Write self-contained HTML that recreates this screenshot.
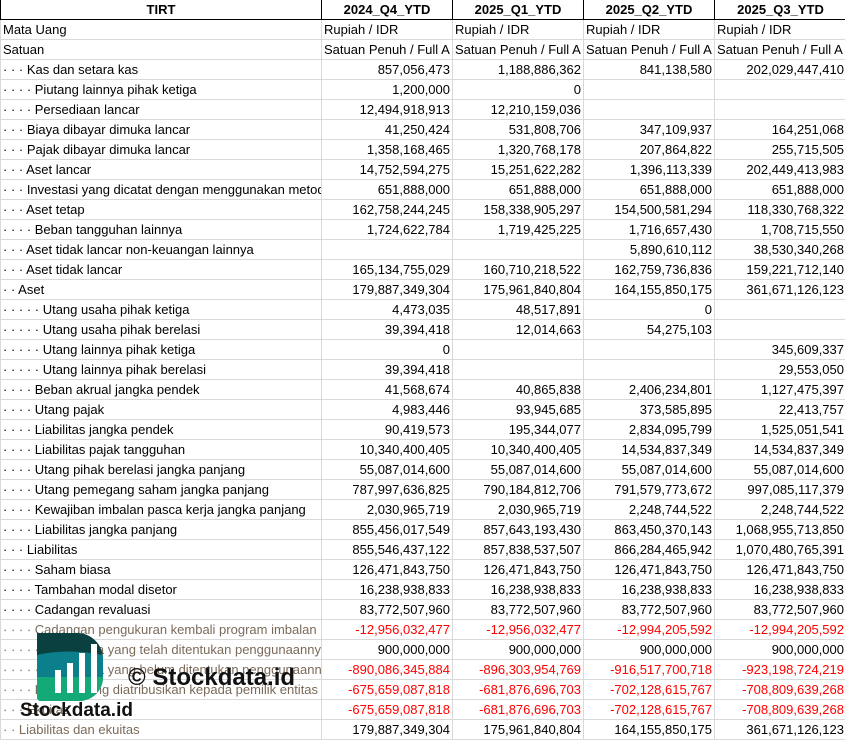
<!DOCTYPE html>
<html><head><meta charset="utf-8"><style>
body{margin:0;width:845px;height:741px;overflow:hidden;background:#fff;font-family:"Liberation Sans",Arial,sans-serif;font-size:13px;color:#000;position:relative}
table{border-collapse:collapse;table-layout:fixed;position:absolute;left:0;top:0;width:846px}
td{height:19px;padding:0 2px;border:1px solid #d9d9d9;white-space:nowrap;overflow:hidden;text-overflow:clip;line-height:19px;max-width:0}
tr.h td{font-weight:bold;text-align:center;border:1px solid #000;border-top:none}
td.n{text-align:right}
.r{color:#f00}
.g{color:#7a6a5a}
.wm{position:absolute}
</style></head><body>
<table>
<colgroup><col style="width:321px"><col style="width:131px"><col style="width:131px"><col style="width:131px"><col style="width:132px"></colgroup>
<tr class="h"><td>TIRT</td><td>2024_Q4_YTD</td><td>2025_Q1_YTD</td><td>2025_Q2_YTD</td><td>2025_Q3_YTD</td></tr>
<tr><td>Mata Uang</td><td>Rupiah / IDR</td><td>Rupiah / IDR</td><td>Rupiah / IDR</td><td>Rupiah / IDR</td></tr>
<tr><td>Satuan</td><td>Satuan Penuh / Full A</td><td>Satuan Penuh / Full A</td><td>Satuan Penuh / Full A</td><td>Satuan Penuh / Full A</td></tr>
<tr><td>· · · Kas dan setara kas</td><td class="n">857,056,473</td><td class="n">1,188,886,362</td><td class="n">841,138,580</td><td class="n">202,029,447,410</td></tr>
<tr><td>· · · · Piutang lainnya pihak ketiga</td><td class="n">1,200,000</td><td class="n">0</td><td></td><td></td></tr>
<tr><td>· · · · Persediaan lancar</td><td class="n">12,494,918,913</td><td class="n">12,210,159,036</td><td></td><td></td></tr>
<tr><td>· · · Biaya dibayar dimuka lancar</td><td class="n">41,250,424</td><td class="n">531,808,706</td><td class="n">347,109,937</td><td class="n">164,251,068</td></tr>
<tr><td>· · · Pajak dibayar dimuka lancar</td><td class="n">1,358,168,465</td><td class="n">1,320,768,178</td><td class="n">207,864,822</td><td class="n">255,715,505</td></tr>
<tr><td>· · · Aset lancar</td><td class="n">14,752,594,275</td><td class="n">15,251,622,282</td><td class="n">1,396,113,339</td><td class="n">202,449,413,983</td></tr>
<tr><td>· · · Investasi yang dicatat dengan menggunakan metode</td><td class="n">651,888,000</td><td class="n">651,888,000</td><td class="n">651,888,000</td><td class="n">651,888,000</td></tr>
<tr><td>· · · Aset tetap</td><td class="n">162,758,244,245</td><td class="n">158,338,905,297</td><td class="n">154,500,581,294</td><td class="n">118,330,768,322</td></tr>
<tr><td>· · · · Beban tangguhan lainnya</td><td class="n">1,724,622,784</td><td class="n">1,719,425,225</td><td class="n">1,716,657,430</td><td class="n">1,708,715,550</td></tr>
<tr><td>· · · Aset tidak lancar non-keuangan lainnya</td><td></td><td></td><td class="n">5,890,610,112</td><td class="n">38,530,340,268</td></tr>
<tr><td>· · · Aset tidak lancar</td><td class="n">165,134,755,029</td><td class="n">160,710,218,522</td><td class="n">162,759,736,836</td><td class="n">159,221,712,140</td></tr>
<tr><td>· · Aset</td><td class="n">179,887,349,304</td><td class="n">175,961,840,804</td><td class="n">164,155,850,175</td><td class="n">361,671,126,123</td></tr>
<tr><td>· · · · · Utang usaha pihak ketiga</td><td class="n">4,473,035</td><td class="n">48,517,891</td><td class="n">0</td><td></td></tr>
<tr><td>· · · · · Utang usaha pihak berelasi</td><td class="n">39,394,418</td><td class="n">12,014,663</td><td class="n">54,275,103</td><td></td></tr>
<tr><td>· · · · · Utang lainnya pihak ketiga</td><td class="n">0</td><td></td><td></td><td class="n">345,609,337</td></tr>
<tr><td>· · · · · Utang lainnya pihak berelasi</td><td class="n">39,394,418</td><td></td><td></td><td class="n">29,553,050</td></tr>
<tr><td>· · · · Beban akrual jangka pendek</td><td class="n">41,568,674</td><td class="n">40,865,838</td><td class="n">2,406,234,801</td><td class="n">1,127,475,397</td></tr>
<tr><td>· · · · Utang pajak</td><td class="n">4,983,446</td><td class="n">93,945,685</td><td class="n">373,585,895</td><td class="n">22,413,757</td></tr>
<tr><td>· · · · Liabilitas jangka pendek</td><td class="n">90,419,573</td><td class="n">195,344,077</td><td class="n">2,834,095,799</td><td class="n">1,525,051,541</td></tr>
<tr><td>· · · · Liabilitas pajak tangguhan</td><td class="n">10,340,400,405</td><td class="n">10,340,400,405</td><td class="n">14,534,837,349</td><td class="n">14,534,837,349</td></tr>
<tr><td>· · · · Utang pihak berelasi jangka panjang</td><td class="n">55,087,014,600</td><td class="n">55,087,014,600</td><td class="n">55,087,014,600</td><td class="n">55,087,014,600</td></tr>
<tr><td>· · · · Utang pemegang saham jangka panjang</td><td class="n">787,997,636,825</td><td class="n">790,184,812,706</td><td class="n">791,579,773,672</td><td class="n">997,085,117,379</td></tr>
<tr><td>· · · · Kewajiban imbalan pasca kerja jangka panjang</td><td class="n">2,030,965,719</td><td class="n">2,030,965,719</td><td class="n">2,248,744,522</td><td class="n">2,248,744,522</td></tr>
<tr><td>· · · · Liabilitas jangka panjang</td><td class="n">855,456,017,549</td><td class="n">857,643,193,430</td><td class="n">863,450,370,143</td><td class="n">1,068,955,713,850</td></tr>
<tr><td>· · · Liabilitas</td><td class="n">855,546,437,122</td><td class="n">857,838,537,507</td><td class="n">866,284,465,942</td><td class="n">1,070,480,765,391</td></tr>
<tr><td>· · · · Saham biasa</td><td class="n">126,471,843,750</td><td class="n">126,471,843,750</td><td class="n">126,471,843,750</td><td class="n">126,471,843,750</td></tr>
<tr><td>· · · · Tambahan modal disetor</td><td class="n">16,238,938,833</td><td class="n">16,238,938,833</td><td class="n">16,238,938,833</td><td class="n">16,238,938,833</td></tr>
<tr><td>· · · · Cadangan revaluasi</td><td class="n">83,772,507,960</td><td class="n">83,772,507,960</td><td class="n">83,772,507,960</td><td class="n">83,772,507,960</td></tr>
<tr><td class="g">· · · · Cadangan pengukuran kembali program imbalan</td><td class="n r">-12,956,032,477</td><td class="n r">-12,956,032,477</td><td class="n r">-12,994,205,592</td><td class="n r">-12,994,205,592</td></tr>
<tr><td class="g">· · · · · Saldo laba yang telah ditentukan penggunaannya</td><td class="n">900,000,000</td><td class="n">900,000,000</td><td class="n">900,000,000</td><td class="n">900,000,000</td></tr>
<tr><td class="g">· · · · · Saldo laba yang belum ditentukan penggunaannya</td><td class="n r">-890,086,345,884</td><td class="n r">-896,303,954,769</td><td class="n r">-916,517,700,718</td><td class="n r">-923,198,724,219</td></tr>
<tr><td class="g">· · · · Ekuitas yang diatribusikan kepada pemilik entitas</td><td class="n r">-675,659,087,818</td><td class="n r">-681,876,696,703</td><td class="n r">-702,128,615,767</td><td class="n r">-708,809,639,268</td></tr>
<tr><td class="g">· · · Ekuitas</td><td class="n r">-675,659,087,818</td><td class="n r">-681,876,696,703</td><td class="n r">-702,128,615,767</td><td class="n r">-708,809,639,268</td></tr>
<tr><td class="g">· · Liabilitas dan ekuitas</td><td class="n">179,887,349,304</td><td class="n">175,961,840,804</td><td class="n">164,155,850,175</td><td class="n">361,671,126,123</td></tr>
</table>
<svg class="wm" style="left:37px;top:633px" width="66" height="68" viewBox="0 0 66 68">
<defs><clipPath id="c"><path d="M0 0 H40 A26 26 0 0 1 66 26 V44 A24 24 0 0 1 42 68 H4 A4 4 0 0 1 0 64 Z"/></clipPath></defs>
<g clip-path="url(#c)">
<rect width="66" height="68" fill="#0a4040"/>
<path d="M0 22 Q30 15 66 22 V68 H0Z" fill="#0b7f8c"/>
<path d="M0 44 H66 V68 H0Z" fill="#14aa78"/>
</g>
<rect x="18" y="37" width="6" height="23" fill="#fff"/>
<rect x="30" y="30" width="6" height="30" fill="#fff"/>
<rect x="42" y="20" width="6" height="40" fill="#fff"/>
<rect x="54" y="11" width="6" height="49" fill="#fff"/>
</svg>
<div class="wm" style="left:128px;top:664px;font-size:24px;font-weight:bold;color:#111">© Stockdata.id</div>
<div class="wm" style="left:20px;top:700px;font-size:19px;font-weight:bold;color:#111">Stockdata.id</div>
</body></html>
